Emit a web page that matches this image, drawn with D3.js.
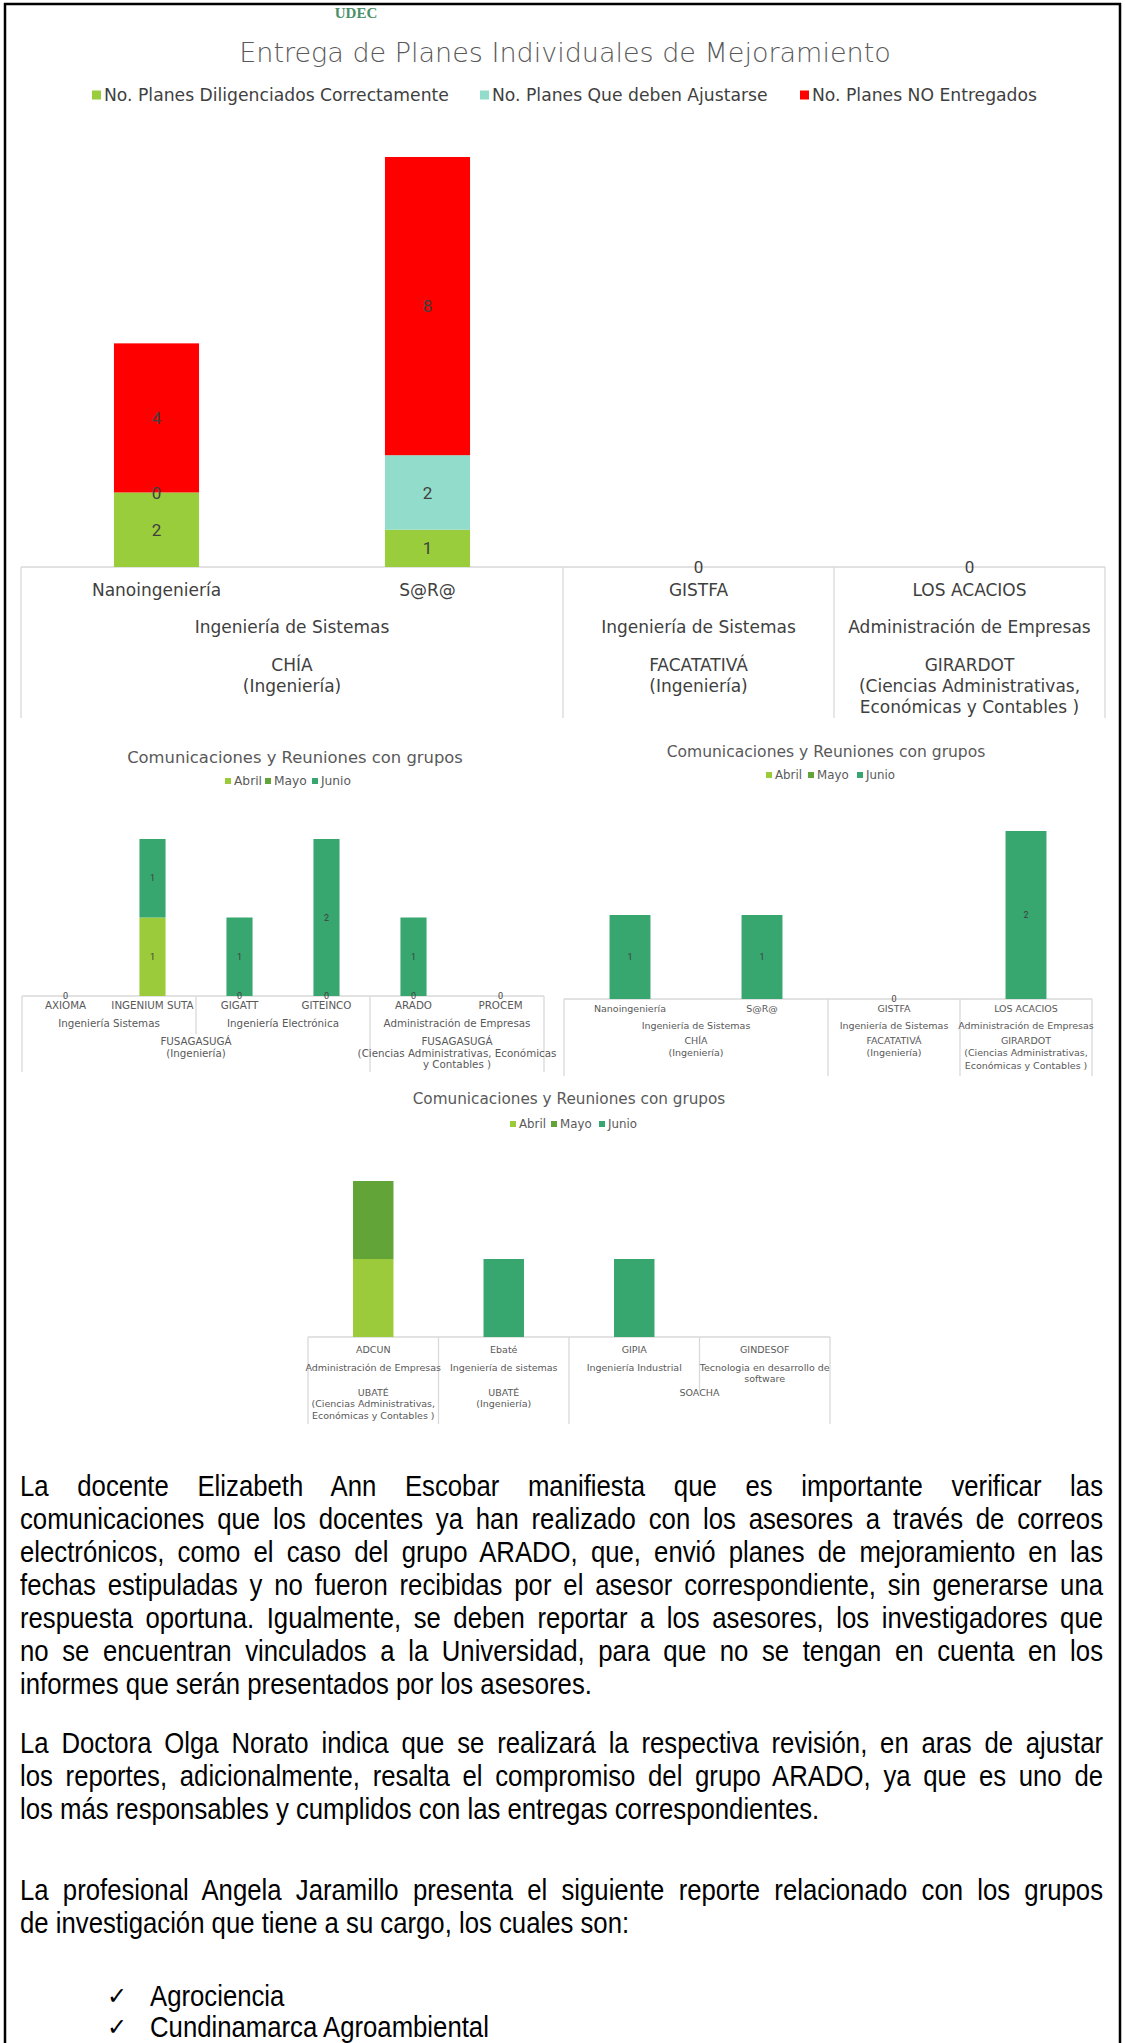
<!DOCTYPE html>
<html><head><meta charset="utf-8">
<script src="https://cdn.jsdelivr.net/npm/d3@7"></script>
<style>body{margin:0;background:#fff}svg{display:block}</style>
</head><body>
<script>
// ---------------- DATA ----------------
const c1Title = "Entrega de Planes Individuales de Mejoramiento";
const c1Series = ["No. Planes Diligenciados Correctamente","No. Planes Que deben Ajustarse","No. Planes NO Entregados"];
const c1Categories = ["Nanoingeniería","S@R@","GISTFA","LOS ACACIOS"];
const c1Correctos = [2,1,0,0];
const c1Ajustar = [0,2,0,0];
const c1NoEntregados = [4,8,0,0];
const c1Programas = [["Ingeniería de Sistemas",2],["Ingeniería de Sistemas",1],["Administración de Empresas",1]];
const c1Sedes = [["CHÍA\n(Ingeniería)",2],["FACATATIVÁ\n(Ingeniería)",1],["GIRARDOT\n(Ciencias Administrativas,\nEconómicas y Contables )",1]];

const commTitle = "Comunicaciones y Reuniones con grupos";
const months = ["Abril","Mayo","Junio"];

const c2Categories = ["AXIOMA","INGENIUM SUTA","GIGATT","GITEINCO","ARADO","PROCEM"];
const c2Abril = [0,1,0,0,0,0];
const c2Mayo  = [0,null,null,null,null,0];
const c2Junio = [0,1,1,2,1,0];
const c2Programas = [["Ingeniería Sistemas",2],["Ingeniería Electrónica",2],["Administración de Empresas",2]];
const c2Sedes = [["FUSAGASUGÁ\n(Ingeniería)",4],["FUSAGASUGÁ\n(Ciencias Administrativas, Económicas\ny Contables )",2]];

const c3Categories = ["Nanoingeniería","S@R@","GISTFA","LOS ACACIOS"];
const c3Abril = [null,null,0,null];
const c3Mayo  = [null,null,0,null];
const c3Junio = [1,1,0,2];
const c3Programas = [["Ingeniería de Sistemas",2],["Ingeniería de Sistemas",1],["Administración de Empresas",1]];
const c3Sedes = [["CHÍA\n(Ingeniería)",2],["FACATATIVÁ\n(Ingeniería)",1],["GIRARDOT\n(Ciencias Administrativas,\nEconómicas y Contables )",1]];

const c4Categories = ["ADCUN","Ebaté","GIPIA","GINDESOF"];
const c4Abril = [1,null,null,null];
const c4Mayo  = [1,null,null,null];
const c4Junio = [null,1,1,null];
const c4Programas = [["Administración de Empresas",1],["Ingeniería de sistemas",1],["Ingeniería Industrial",1],["Tecnologia en desarrollo de\nsoftware",1]];
const c4Sedes = [["UBATÉ\n(Ciencias Administrativas,\nEconómicas y Contables )",1],["UBATÉ\n(Ingeniería)",1],["SOACHA",2]];

const para1 = [
 "La docente Elizabeth Ann Escobar manifiesta que es importante verificar las",
 "comunicaciones que los docentes ya han realizado con los asesores a través de correos",
 "electrónicos, como el caso del grupo ARADO, que, envió planes de mejoramiento en las",
 "fechas estipuladas y no fueron recibidas por el asesor correspondiente, sin generarse una",
 "respuesta oportuna. Igualmente, se deben reportar a los asesores, los investigadores que",
 "no se encuentran vinculados a la Universidad, para que no se tengan en cuenta en los",
 "informes que serán presentados por los asesores."];
const para2 = [
 "La Doctora Olga Norato indica que se realizará la respectiva revisión, en aras de ajustar",
 "los reportes, adicionalmente, resalta el compromiso del grupo ARADO, ya que es uno de",
 "los más responsables y cumplidos con las entregas correspondientes."];
const para3 = [
 "La profesional Angela Jaramillo presenta el siguiente reporte relacionado con los grupos",
 "de investigación que tiene a su cargo, los cuales son:"];
const bullets = ["Agrociencia","Cundinamarca Agroambiental"];

// ---------------- STYLE ----------------
const chartFont = "'DejaVu Sans', sans-serif";
const labelFont = "Roboto, sans-serif";
const textFont = "'Liberation Sans', Arial, sans-serif";
const c1Colors = ["#9acd3b","#92dccb","#ff0000"];
const monthColors = ["#9bcb3b","#62a437","#37a66f"];
const gridColor = "#d9d9d9";

const W = 1125, H = 2043;
const svg = d3.select("body").append("svg").attr("width", W).attr("height", H);

// ---------- page frame ----------
svg.append("line").attr("x1",5).attr("x2",5).attr("y1",3).attr("y2",H).attr("stroke","#000").attr("stroke-width",2.5);
svg.append("line").attr("x1",1120).attr("x2",1120).attr("y1",3).attr("y2",H).attr("stroke","#000").attr("stroke-width",2.5);
svg.append("line").attr("x1",4).attr("x2",1121).attr("y1",4).attr("y2",4).attr("stroke","#000").attr("stroke-width",2.5);

// logo text
svg.append("text").attr("x",356).attr("y",18).attr("text-anchor","middle")
  .attr("font-family","'Liberation Serif', serif").attr("font-weight","bold").attr("font-size",15)
  .attr("fill","#4a9068").text("UDEC");

// ---------- helpers ----------
function fitText(sel, target){
  const w = sel.node().getComputedTextLength();
  const fs = parseFloat(sel.attr("font-size"));
  sel.attr("font-size", fs*target/w);
}

// legend: items start at given x positions; font fitted so the first text has width w0
function legend(g, names, colors, starts, w0, cy, fs, sq, fill){
  const items = names.map((n,i)=>{
    const it = g.append("g").attr("transform",`translate(${starts[i]},${cy})`);
    it.append("rect").attr("width",sq).attr("height",sq).attr("y",-sq/2).attr("fill",colors[i]);
    return it.append("text").attr("x",sq+3).attr("dy","0.35em").attr("font-family",chartFont)
      .attr("font-size",fs).attr("fill",fill).text(n);
  });
  const k = w0/items[0].node().getComputedTextLength();
  items.forEach(t=>t.attr("font-size",fs*k));
}

function multiText(g, x, y, str, lh, fs, fill){
  const t = g.append("text").attr("x",x).attr("y",y).attr("text-anchor","middle")
    .attr("font-family",chartFont).attr("font-size",fs).attr("fill",fill);
  str.split("\n").forEach((s,i)=>t.append("tspan").attr("x",x).attr("dy",i?lh:0).attr("dominant-baseline","middle").text(s));
}

function stackedChart(cfg){
  const g = svg.append("g");
  const x = d3.scaleBand().domain(cfg.cats).range(cfg.xr).paddingInner(cfg.pad).paddingOuter(cfg.pad/2);
  const y = d3.scaleLinear().domain([0,cfg.ymax]).range([cfg.y0, cfg.ytop]);
  const [x0,x1] = cfg.xr;
  const step = x.step();
  const n = cfg.cats.length;
  const b2 = new Set(), b3 = new Set();
  let acc = 0; cfg.lev2.forEach(d=>{acc+=d[1]; b2.add(acc);});
  acc = 0; cfg.lev3.forEach(d=>{acc+=d[1]; b3.add(acc);});
  const ax = g.append("g");
  ax.append("line").attr("x1",x0).attr("x2",x1).attr("y1",cfg.y0).attr("y2",cfg.y0).attr("stroke",gridColor).attr("stroke-width",1.3);
  for(let i=0;i<=n;i++){
    const bx = x0 + i*step;
    let yb = null;
    if(i===0 || i===n || b3.has(i)) yb = cfg.bottom; else if(b2.has(i)) yb = cfg.l2bottom;
    if(yb!==null) ax.append("line").attr("x1",bx).attr("x2",bx).attr("y1",cfg.y0).attr("y2",yb).attr("stroke",gridColor).attr("stroke-width",1.3);
  }
  cfg.cats.forEach(c=>multiText(ax, x(c)+x.bandwidth()/2, cfg.r1, c, cfg.lh, cfg.afs, cfg.acol));
  acc=0; cfg.lev2.forEach(d=>{ const cx = x0 + (acc + d[1]/2)*step; multiText(ax,cx,cfg.r2,d[0],cfg.lh,cfg.afs,cfg.acol); acc+=d[1]; });
  acc=0; cfg.lev3.forEach(d=>{ const cx = x0 + (acc + d[1]/2)*step; multiText(ax,cx,cfg.r3,d[0],cfg.lh,cfg.afs,cfg.acol); acc+=d[1]; });
  const labels = new Map();
  cfg.cats.forEach((c,i)=>{
    let s0 = 0;
    cfg.series.forEach((s,si)=>{
      const v = s[i];
      if(v==null) return;
      const ya = y(s0), yb = y(s0+v);
      if(v>0) g.append("rect").attr("x",x(c)).attr("width",x.bandwidth()).attr("y",yb).attr("height",ya-yb).attr("fill",cfg.colors[si]);
      const lx = x(c)+x.bandwidth()/2, ly = (ya+yb)/2;
      labels.set(`${lx.toFixed(1)}_${ly.toFixed(1)}_${v}`, {x:lx, y:ly, v});
      s0 += v;
    });
  });
  if(cfg.showLabels){
    labels.forEach(l=>g.append("text").attr("x",l.x).attr("y",l.y).attr("dy","0.36em").attr("text-anchor","middle")
      .attr("font-family",labelFont).attr("font-size",cfg.lfs).attr("fill","#404040").text(l.v));
  }
  return g;
}

function chartTitle(text, cx, cy, width, fs, weight){
  const t = svg.append("text").attr("x",cx).attr("y",cy).attr("dy","0.35em").attr("text-anchor","middle")
    .attr("font-family",chartFont).attr("font-weight",weight||"normal").attr("font-size",fs).attr("fill","#595959").text(text);
  fitText(t, width);
}

// ---------- Chart 1 ----------
chartTitle(c1Title, 565, 53, 652, 24, 300);
legend(svg.append("g"), c1Series, c1Colors, [92,480,800], 345, 95, 15, 9, "#404040");
stackedChart({cats:c1Categories, series:[c1Correctos,c1Ajustar,c1NoEntregados], colors:c1Colors,
  xr:[21,1105], pad:0.686, y0:567, ytop:157, ymax:11, lev2:c1Programas, lev3:c1Sedes,
  bottom:718, l2bottom:645, r1:591, r2:628, r3:666, lh:21, afs:17, acol:"#404040", showLabels:true, lfs:17});

// ---------- Chart 2 ----------
chartTitle(commTitle, 295, 757, 336, 15);
legend(svg.append("g"), months, monthColors, [225,265,312], 28, 781, 10, 6, "#595959");
stackedChart({cats:c2Categories, series:[c2Abril,c2Mayo,c2Junio], colors:monthColors,
  xr:[22,544], pad:0.7, y0:996, ytop:839, ymax:2, lev2:c2Programas, lev3:c2Sedes,
  bottom:1072, l2bottom:1034, r1:1006, r2:1024, r3:1042, lh:11.5, afs:10.3, acol:"#595959", showLabels:true, lfs:9});

// ---------- Chart 3 ----------
chartTitle(commTitle, 826, 752, 319, 15);
legend(svg.append("g"), months, monthColors, [766,808,857], 27, 775, 10, 6, "#595959");
stackedChart({cats:c3Categories, series:[c3Abril,c3Mayo,c3Junio], colors:monthColors,
  xr:[564,1092], pad:0.69, y0:999, ytop:831, ymax:2, lev2:c3Programas, lev3:c3Sedes,
  bottom:1076, l2bottom:1033, r1:1009, r2:1026, r3:1041, lh:12.5, afs:9.5, acol:"#595959", showLabels:true, lfs:9});

// ---------- Chart 4 ----------
chartTitle(commTitle, 569, 1099, 313, 15);
legend(svg.append("g"), months, monthColors, [510,551,599], 27, 1124, 10, 6, "#595959");
stackedChart({cats:c4Categories, series:[c4Abril,c4Mayo,c4Junio], colors:monthColors,
  xr:[308,830], pad:0.69, y0:1337, ytop:1181, ymax:2, lev2:c4Programas, lev3:c4Sedes,
  bottom:1424, l2bottom:1391, r1:1350, r2:1368, r3:1393, lh:11.5, afs:9.5, acol:"#595959", showLabels:false, lfs:9});

// ---------- Paragraphs ----------
const textLeft = 20, textRight = 1103, fsText = 29;
// horizontal condensation: a narrow face, sized from the paragraph's final (unjustified) line
const probe = svg.append("text").attr("font-family",textFont).attr("font-size",fsText).text(para1[para1.length-1]);
const sx = 572/probe.node().getComputedTextLength();
probe.remove();

function paragraph(lines, y0, lh){
  lines.forEach((ln,i)=>{
    const g = svg.append("g").attr("transform",`translate(${textLeft},${y0+i*lh}) scale(${sx},1)`);
    const t = g.append("text").attr("x",0).attr("dy","0.35em")
      .attr("font-family",textFont).attr("font-size",fsText).attr("fill","#000").text(ln);
    if(i < lines.length-1){
      const w = t.node().getComputedTextLength();
      const spaces = (ln.match(/ /g)||[]).length;
      if(spaces) t.attr("word-spacing", ((textRight-textLeft)/sx - w)/spaces);
    }
  });
}
paragraph(para1, 1486, 33);
paragraph(para2, 1743, 33);
paragraph(para3, 1890, 33);
bullets.forEach((b,i)=>{
  const yy = 1996 + i*31;
  svg.append("text").attr("x",117).attr("y",yy).attr("dy","0.35em").attr("font-family","'DejaVu Sans', sans-serif")
    .attr("font-size",24).attr("text-anchor","middle").text("✓");
  svg.append("g").attr("transform",`translate(150,${yy}) scale(${sx},1)`).append("text").attr("dy","0.35em")
    .attr("font-family",textFont).attr("font-size",fsText).text(b);
});
</script>
</body></html>
